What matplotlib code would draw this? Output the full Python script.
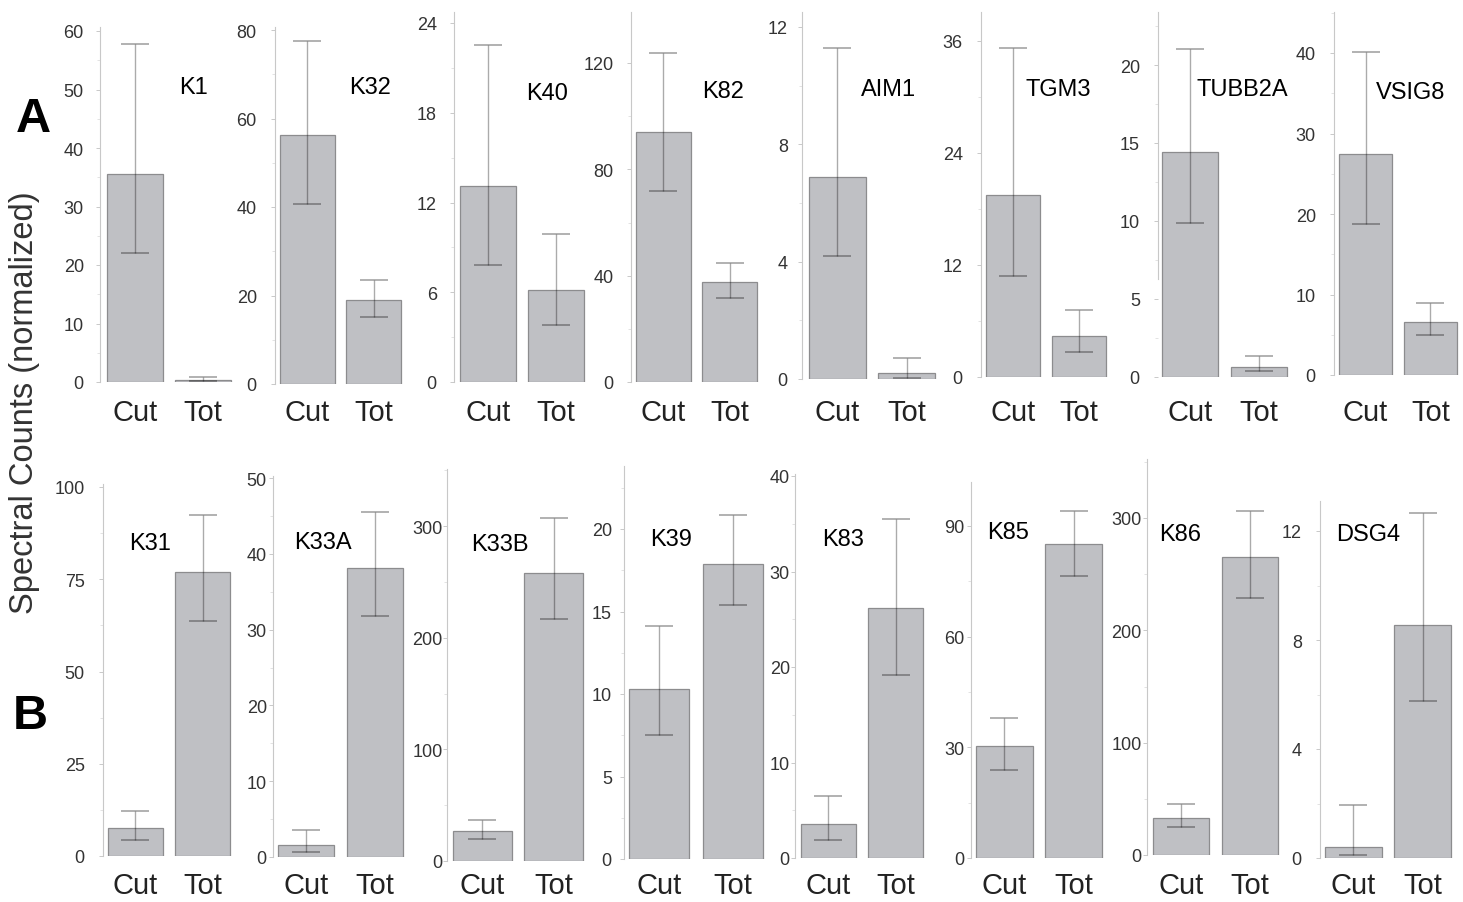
import numpy as np
import matplotlib
matplotlib.use("Agg")
import matplotlib.pyplot as plt
from matplotlib.ticker import AutoMinorLocator

plt.rcParams['font.family'] = ['Liberation Sans', 'DejaVu Sans']

# data: mean with lower / upper error limits for Cut and Tot
genes = ["K1", "K32", "K40", "K82", "AIM1", "TGM3", "TUBB2A", "VSIG8",
         "K31", "K33A", "K33B", "K39", "K83", "K85", "K86", "DSG4"]
groups = ["Cut", "Tot"]
cut_mean = [35.5, 56.3, 13.1, 94.0, 6.9, 19.5, 14.4, 27.4,
            7.6, 1.6, 27.0, 10.3, 3.55, 30.3, 33.0, 0.4]
cut_low = [22.0, 40.7, 7.8, 71.7, 4.2, 10.8, 9.9, 18.7,
           4.3, 0.7, 19.7, 7.5, 1.9, 23.8, 25.0, 0.1]
cut_high = [57.7, 77.5, 22.5, 123.8, 11.3, 35.2, 21.0, 40.1,
            12.2, 3.6, 36.8, 14.1, 6.5, 37.9, 45.0, 1.95]
tot_mean = [0.3, 19.0, 6.15, 37.7, 0.2, 4.4, 0.65, 6.6,
            77.0, 38.1, 258.0, 17.9, 26.2, 85.1, 265.0, 8.55]
tot_low = [0.1, 15.1, 3.8, 31.7, 0.05, 2.7, 0.4, 5.0,
           63.7, 31.8, 217.0, 15.4, 19.2, 76.4, 229.0, 5.76]
tot_high = [0.8, 23.5, 9.9, 44.9, 0.7, 7.2, 1.35, 8.9,
            92.4, 45.5, 307.0, 20.85, 35.5, 94.0, 306.0, 12.66]
yticks = [[0, 10, 20, 30, 40, 50, 60], [0, 20, 40, 60, 80], [0, 6, 12, 18, 24],
          [0, 40, 80, 120], [0, 4, 8, 12], [0, 12, 24, 36], [0, 5, 10, 15, 20],
          [0, 10, 20, 30, 40],
          [0, 25, 50, 75, 100], [0, 10, 20, 30, 40, 50], [0, 100, 200, 300],
          [0, 5, 10, 15, 20], [0, 10, 20, 30, 40], [0, 30, 60, 90],
          [0, 100, 200, 300], [0, 4, 8, 12]]

# layout in pixels: spine x, zero y, top tick value, top tick y, spine top,
# cut bar left, tot bar right, tick-label gap
layout = [
    (100, 383, 60, 32, 28, 107, 231, 15),
    (275, 385, 80, 31, 28, 280, 401, 17),
    (454, 383, 24, 24, 13, 460, 584, 16),
    (631, 383, 120, 64, 13, 636, 757, 16),
    (802, 380, 12, 28, 13, 809, 935, 13),
    (981, 378, 36, 42, 13, 986, 1106, 17),
    (1158, 378, 20, 66, 13, 1162, 1287, 17),
    (1334, 376, 40, 54, 13, 1339, 1457, 17),
    (103, 857, 100, 488, 485, 108, 230, 17),
    (273, 858, 50, 479, 477, 278, 403, 5),
    (447, 862, 300, 527, 470, 453, 583, 1),
    (624, 860, 20, 530, 467, 629, 763, 11),
    (795, 859, 40, 477, 475, 801, 923, 4),
    (971, 859, 90, 527, 483, 976, 1102, 5),
    (1147, 856, 300, 519, 460, 1153, 1278, 4),
    (1320, 859, 12, 532, 502, 1325, 1451, 17),
]
label_pos = [(193, 88), (370, 88), (547, 94), (723, 92), (889, 90), (1058, 90),
             (1242, 90), (1411, 93),
             (150, 544), (323, 543), (500, 545), (671, 540), (843, 540),
             (1008, 533), (1180, 535), (1368, 535)]
xlabel_top = [399] * 8 + [872] * 8

W, H = 1463, 903
fig = plt.figure(figsize=(W / 100, H / 100), dpi=100)
bar_w = 0.82

for i, gene in enumerate(genes):
    sx, y0, tv, ty, stop, cl, tr, gap = layout[i]
    scale = (y0 - ty) / tv
    ytop = (y0 - stop) / scale
    ax = fig.add_axes([sx / W, 1 - y0 / H, (tr + 3 - sx) / W, (y0 - stop) / H])
    d = (tr - cl) / (1 + bar_w)
    ax.set_xlim(-bar_w / 2 - (cl - sx) / d, 1 + bar_w / 2 + 3 / d)
    ax.set_ylim(0, ytop)

    means = np.array([cut_mean[i], tot_mean[i]])
    lows = np.array([cut_low[i], tot_low[i]])
    highs = np.array([cut_high[i], tot_high[i]])
    ax.bar([0, 1], means, width=bar_w, color='#bfc0c4', edgecolor='#8c8c8e',
           linewidth=0.9, zorder=2)
    ax.errorbar([0, 1], means, yerr=[means - lows, highs - means], fmt='none',
                ecolor=(0, 0, 0, 0.33), elinewidth=1.0, capsize=10, capthick=1.3,
                zorder=3)

    for s in ['top', 'right', 'bottom']:
        ax.spines[s].set_visible(False)
    ax.spines['left'].set_color('#c8c8c8')
    ax.spines['left'].set_linewidth(0.8)
    if gene == "TUBB2A":
        ax.spines['left'].set_bounds((y0 - 280) / scale, ytop)

    ax.set_yticks(yticks[i])
    ax.yaxis.set_minor_locator(AutoMinorLocator(2))
    ax.tick_params(axis='y', which='major', length=3, width=0.6, color='#c0c0c0',
                   labelsize=13, labelcolor='#333333', pad=max(gap - 3, 0) * 0.72)
    ax.tick_params(axis='y', which='minor', length=2, width=0.5, color='#d8d8d8')
    ax.set_xticks([0, 1], groups)
    ax.tick_params(axis='x', length=0, labelsize=21, labelcolor='#222222',
                   pad=(xlabel_top[i] - y0) * 0.72)
    ax.patch.set_alpha(0)

    lx, ly = label_pos[i]
    fig.text(lx / W, 1 - ly / H, gene, fontsize=17, ha='center', va='center')

fig.text(25 / W, 1 - 403 / H, "Spectral Counts (normalized)", rotation=90,
         fontsize=23.5, color='#333333', ha='center', va='center')
fig.text(33 / W, 1 - 120 / H, "A", fontsize=35, fontweight='bold', ha='center', va='center')
fig.text(30 / W, 1 - 717 / H, "B", fontsize=35, fontweight='bold', ha='center', va='center')

fig.savefig("out.png", dpi=100)
